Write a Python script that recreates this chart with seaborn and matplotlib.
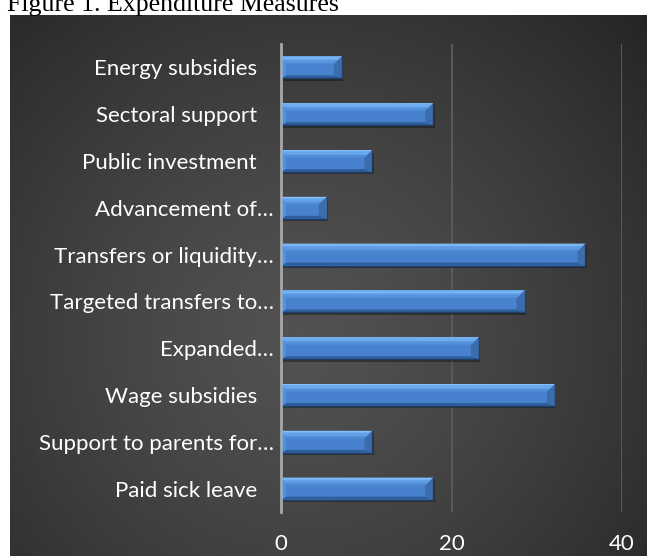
import numpy as np
import pandas as pd
import matplotlib
matplotlib.use("Agg")
import matplotlib.pyplot as plt
from matplotlib.patches import Polygon, Rectangle
import seaborn as sns

# Share of countries (%) adopting each expenditure measure
categories = [
    "Energy subsidies   ",
    "Sectoral support   ",
    "Public investment   ",
    "Advancement of…",
    "Transfers or liquidity…",
    "Targeted transfers to…",
    "Expanded…",
    "Wage subsidies   ",
    "Support to parents for…",
    "Paid sick leave   ",
]
shares = [7.14, 17.86, 10.71, 5.36, 35.71, 28.57, 23.21, 32.14, 10.71, 17.86]
x_ticks = [0, 20, 40]
title = "Figure 1. Expenditure Measures"

sns.set_theme(style="white")
plt.rcParams["font.family"] = ["Lato", "DejaVu Sans"]

W, H = 647, 556
fig = plt.figure(figsize=(W / 100, H / 100), dpi=100)
fig.patch.set_facecolor("white")

# dark radial-gradient chart panel
bw, bh = W - 10, H - 15
bg = fig.add_axes([10 / W, 0, bw / W, bh / H], zorder=0)
yy, xx = np.mgrid[0:bh, 0:bw]
cx, cy = 290, 320
r = np.hypot(xx - cx, yy - cy) / 470.0
shade = 0x52 - (0x52 - 0x25) * np.clip(r, 0, 1) ** 1.3
img = np.dstack([shade, shade, shade]) / 255.0
bg.imshow(img, aspect="auto", interpolation="bilinear")
bg.axis("off")

# bar axes
ax = fig.add_axes([281 / W, (H - 512) / H, (622 - 281) / W, (512 - 44) / H], zorder=2)
ax.patch.set_alpha(0)

df = pd.DataFrame({"measure": categories, "share": shares})
sns.barplot(data=df, x="share", y="measure", orient="h", ax=ax, width=0.47,
            color="#4882ce", saturation=1, edgecolor="none", zorder=3)

ax.set_xlim(0, 40)
ax.set_ylim(len(categories) - 0.5, -0.5)

# bevelled look for every bar
px_x = 40 / (622 - 281)          # data units per pixel, horizontal
px_y = 1 / 46.8                  # data units per pixel, vertical
for p in list(ax.patches):
    x0, w = p.get_x(), p.get_width()
    yt, h = p.get_y(), p.get_height()
    x1, yb = x0 + w, yt + h
    dxl, dxr = 5 * px_x, 8 * px_x
    dyt, dyb = 8 * px_y, 3 * px_y
    ax.add_patch(Rectangle((x0 + 1.5 * px_x, yt + 2.5 * px_y), w, h,
                           facecolor="black", alpha=0.35, lw=0, zorder=2.5))
    # top band with a soft gradient
    steps = 6
    tops = np.linspace(0, 1, steps + 1)
    cols = ["#82c0f9", "#76b6f5", "#6aaaee", "#5f9ee6", "#5594dd", "#4d8ad4"]
    for k in range(steps):
        f0, f1 = tops[k], tops[k + 1]
        ax.add_patch(Polygon([
            (x0 + dxl * f0, yt + dyt * f0), (x1 - dxr * f0, yt + dyt * f0),
            (x1 - dxr * f1, yt + dyt * f1), (x0 + dxl * f1, yt + dyt * f1)],
            closed=True, facecolor=cols[k], lw=0, zorder=3.2))
    ax.add_patch(Polygon([(x0, yb), (x1, yb), (x1 - dxr, yb - dyb), (x0 + dxl, yb - dyb)],
                         closed=True, facecolor="#2f5e9c", lw=0, zorder=3.2))
    ax.add_patch(Polygon([(x0, yt), (x0 + dxl, yt + dyt), (x0 + dxl, yb - dyb), (x0, yb)],
                         closed=True, facecolor="#5292dd", lw=0, zorder=3.2))
    ax.add_patch(Polygon([(x1, yt), (x1 - dxr, yt + dyt), (x1 - dxr, yb - dyb), (x1, yb)],
                         closed=True, facecolor="#3a6cae", lw=0, zorder=3.2))
    ax.plot([x1, x1, x0], [yt, yb, yb], color="#1f3f6b", lw=1.0, zorder=3.3,
            solid_joinstyle="miter")

ax.set_xticks(x_ticks)
ax.set_xticklabels([str(t) for t in x_ticks])
ax.xaxis.grid(True, color="#5a5a5a", lw=1.4)
ax.yaxis.grid(False)
ax.set_axisbelow(True)
for s in ["top", "right", "bottom"]:
    ax.spines[s].set_visible(False)
ax.spines["left"].set_color("#a8a8a8")
ax.spines["left"].set_linewidth(2)
ax.spines["left"].set_zorder(4)
ax.tick_params(axis="both", length=0, colors="white", labelsize=16)
ax.tick_params(axis="x", pad=16)
ax.tick_params(axis="y", pad=5)
ax.set_xlabel("")
ax.set_ylabel("")

fig.text(7 / W, 1 - 11 / H, title, family="Liberation Serif", fontsize=18.6,
         color="black", va="baseline", ha="left")

fig.savefig("out.png", dpi=100)
